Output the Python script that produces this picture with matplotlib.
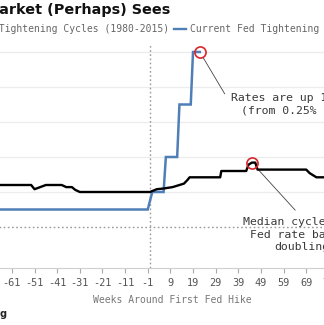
import matplotlib
matplotlib.use("Agg")
import matplotlib.pyplot as plt
from matplotlib.lines import Line2D

# ---- data -----------------------------------------------------------------
# Median policy-rate path across Fed tightening cycles (1980-2015), % level
median_weeks = [-67, -52.5, -51, -48.5, -46, -39, -37, -34.5, -33, -31, -1, 0,
                3, 6, 10, 13, 15, 16.5, 17.5, 31, 31.5, 42.5, 43.5, 45, 46.5,
                47.5, 69, 70.5, 73.5, 80]
median_rate = [0.60, 0.60, 0.54, 0.57, 0.60, 0.60, 0.57, 0.57, 0.53, 0.50,
               0.50, 0.50, 0.54, 0.55, 0.57, 0.60, 0.62, 0.67, 0.71, 0.71,
               0.80, 0.80, 0.89, 0.92, 0.92, 0.82, 0.82, 0.77, 0.71, 0.71]

# Current Fed tightening cycle, % level
current_weeks = [-67, -1, 1, 6, 7, 12, 13, 18, 19, 22]
current_rate = [0.25, 0.25, 0.5, 0.5, 1.0, 1.0, 1.75, 1.75, 2.5, 2.5]

tick_weeks = list(range(-71, 95, 10))
grid_levels = [0.5, 1.0, 1.5, 2.0, 2.5]

title = "What The Market (Perhaps) Sees"
legend_labels = ["Median of Tightening Cycles (1980-2015)",
                 "Current Fed Tightening Cycle"]
xlabel = "Weeks Around First Fed Hike"
note_current = "Rates are up 10x so far\n(from 0.25% to 2.5%)"
note_median = "Median cycle sees\nFed rate barely\ndoubling"
source = "Source: Bloomberg"

# ---- layout ---------------------------------------------------------------
W, H, DPI = 324, 325, 100
PX_WEEK, WEEK0_PX = 2.264, 150.0
PX_UNIT, ZERO_PX = 70.0, 227.0
AX_TOP, AX_BOT = 44.0, 267.5
XMIN, XMAX = -75, 95

MONO = "DejaVu Sans Mono"
BLUE = "#4f7fb6"
RED = "#d9262c"

fig = plt.figure(figsize=(W / DPI, H / DPI), dpi=DPI)
left_px = WEEK0_PX + XMIN * PX_WEEK
right_px = WEEK0_PX + XMAX * PX_WEEK
ax = fig.add_axes([left_px / W, (H - AX_BOT) / H,
                   (right_px - left_px) / W, (AX_BOT - AX_TOP) / H])
ax.set_xlim(XMIN, XMAX)
ax.set_ylim((ZERO_PX - AX_BOT) / PX_UNIT, (ZERO_PX - AX_TOP) / PX_UNIT)

for lvl in grid_levels:
    ax.axhline(lvl, color="#ececec", lw=0.9, zorder=0)
ax.axhline(0, color="#9a9a9a", lw=1.0, ls=(0, (1.2, 1.8)), zorder=1)
ax.axvline(0, color="#9a9a9a", lw=1.0, ls=(0, (1.2, 1.8)), zorder=1)

ax.plot(current_weeks, current_rate, color=BLUE, lw=1.8, zorder=3,
        solid_joinstyle="miter")
ax.plot(median_weeks, median_rate, color="black", lw=1.7, zorder=4)

# highlight markers
peak_i = median_rate.index(max(median_rate))
ax.plot(current_weeks[-1], current_rate[-1], "o", ms=8, mfc="none",
        mec=RED, mew=1.2, zorder=5)
ax.plot(median_weeks[peak_i], median_rate[peak_i], "o", ms=8, mfc="none",
        mec=RED, mew=1.2, zorder=5)

ax.annotate(note_current, xy=(current_weeks[-1], current_rate[-1]),
            xytext=(35.8, 1.75), ha="left", va="center",
            multialignment="center", fontsize=8.25, family=MONO,
            color="#3a3a3a", linespacing=1.3,
            arrowprops=dict(arrowstyle="-", color="#444444", lw=0.6,
                            relpos=(0, 0.5), shrinkA=5, shrinkB=5))
ax.annotate(note_median, xy=(median_weeks[peak_i], median_rate[peak_i]),
            xytext=(41.1, -0.11), ha="left", va="center",
            multialignment="center", fontsize=8.25, family=MONO,
            color="#3a3a3a", linespacing=1.33,
            arrowprops=dict(arrowstyle="-", color="#444444", lw=0.6,
                            relpos=(0.5, 1), shrinkA=4, shrinkB=5))

# axes styling
for side in ("left", "right", "top"):
    ax.spines[side].set_visible(False)
ax.spines["bottom"].set_color("#cfcfcf")
ax.spines["bottom"].set_linewidth(0.8)
ax.set_yticks([])
ax.set_xticks(tick_weeks)
ax.set_xticklabels([str(t) for t in tick_weeks], family=MONO, fontsize=7.4,
                   color="#555555")
ax.tick_params(axis="x", length=3.5, width=0.8, color="#aaaaaa", pad=4)
ax.set_xlabel(xlabel, family=MONO, fontsize=7, color="#777777", labelpad=5)

# title, legend, source
fig.text(170 / W, 1 - 10 / H, title, ha="right", va="center",
         fontsize=10.4, fontweight="bold", color="#111111")
handles = [Line2D([], [], color="black", lw=1.6),
           Line2D([], [], color=BLUE, lw=1.7)]
fig.legend(handles, legend_labels, loc="center left",
           bbox_to_anchor=(-76.9 / W, 1 - 29.3 / H), ncol=2, frameon=False,
           prop={"family": MONO, "size": 7}, labelcolor="#666666",
           handlelength=1.27, handletextpad=0.44, columnspacing=0.48,
           borderpad=0, borderaxespad=0)
fig.text(7 / W, 1 - 314 / H, source, ha="right", va="center",
         fontsize=7, fontweight="bold", color="#222222")

fig.savefig("out.png", dpi=DPI)
